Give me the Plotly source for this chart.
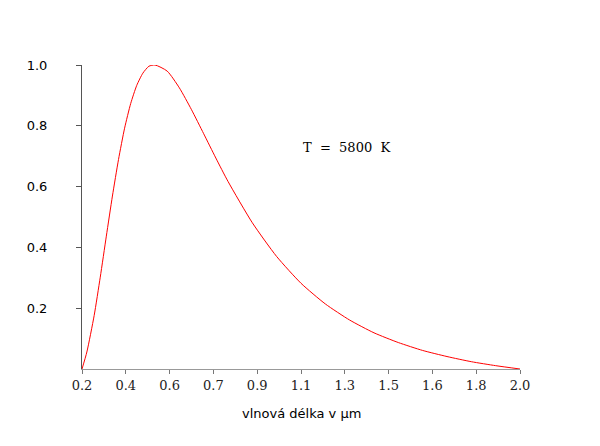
import plotly.graph_objects as go

# wavelength (µm) and normalised spectral radiance
wavelength = [0.20, 0.22, 0.25, 0.275, 0.30, 0.325, 0.35, 0.375, 0.40, 0.425, 0.45, 0.475,
              0.50, 0.55, 0.60, 0.65, 0.70, 0.75, 0.80, 0.90, 1.00, 1.10, 1.20, 1.30,
              1.40, 1.50, 1.60, 1.70, 1.80, 1.90, 2.00]
intensity = [0.000, 0.056, 0.176, 0.302, 0.437, 0.569, 0.689, 0.792, 0.873, 0.933, 0.973, 0.996,
             1.000, 0.980, 0.925, 0.853, 0.774, 0.694, 0.617, 0.481, 0.370, 0.282, 0.214, 0.161,
             0.119, 0.087, 0.061, 0.041, 0.024, 0.011, 0.000]

x_tick_vals = [0.20, 0.38, 0.56, 0.74, 0.92, 1.10, 1.28, 1.46, 1.64, 1.82, 2.00]
x_tick_text = ["0.2", "0.4", "0.6", "0.7", "0.9", "1.1", "1.3", "1.5", "1.6", "1.8", "2.0"]
y_tick_vals = [0.2, 0.4, 0.6, 0.8, 1.0]
y_tick_text = ["0.2", "0.4", "0.6", "0.8", "1.0"]

label_text = "T  =  5800  K"
x_title = "vlnová délka v µm"

fig = go.Figure()
fig.add_trace(go.Scatter(
    x=wavelength, y=intensity, mode="lines",
    line=dict(color="#ff0000", width=1, shape="spline", smoothing=0.6),
    hoverinfo="skip", showlegend=False,
))

fig.update_layout(
    width=600, height=446,
    margin=dict(l=74, r=88, t=57, b=85),
    paper_bgcolor="white", plot_bgcolor="white",
    showlegend=False,
    xaxis=dict(
        range=[0.2, 2.0], showgrid=False, zeroline=False,
        showline=True, linecolor="#999999", linewidth=1,
        ticks="outside", ticklen=4, tickcolor="#777777", tickwidth=1,
        tickvals=x_tick_vals, ticktext=x_tick_text,
        tickfont=dict(family="DejaVu Serif", size=13, color="#222222"),
        automargin=False,
    ),
    yaxis=dict(
        range=[0, 1], showgrid=False, zeroline=False,
        showline=True, linecolor="#555555", linewidth=1,
        ticks="outside", ticklen=5, tickcolor="#555555", tickwidth=1,
        tickvals=y_tick_vals, ticktext=y_tick_text,
        tickfont=dict(family="DejaVu Sans", size=13, color="#000000"),
        ticklabelstandoff=26,
        automargin=False,
    ),
    annotations=[
        dict(text=label_text, x=1.288, y=0.727, xref="x", yref="y",
             showarrow=False, xanchor="center", yanchor="middle",
             font=dict(family="DejaVu Serif", size=13, color="#000000")),
        dict(text=x_title, x=0.5, y=0, xref="paper", yref="paper",
             showarrow=False, xanchor="center", yanchor="middle", yshift=-44,
             font=dict(family="DejaVu Sans", size=13, color="#000000")),
    ],
)

fig.write_html("out.html")
